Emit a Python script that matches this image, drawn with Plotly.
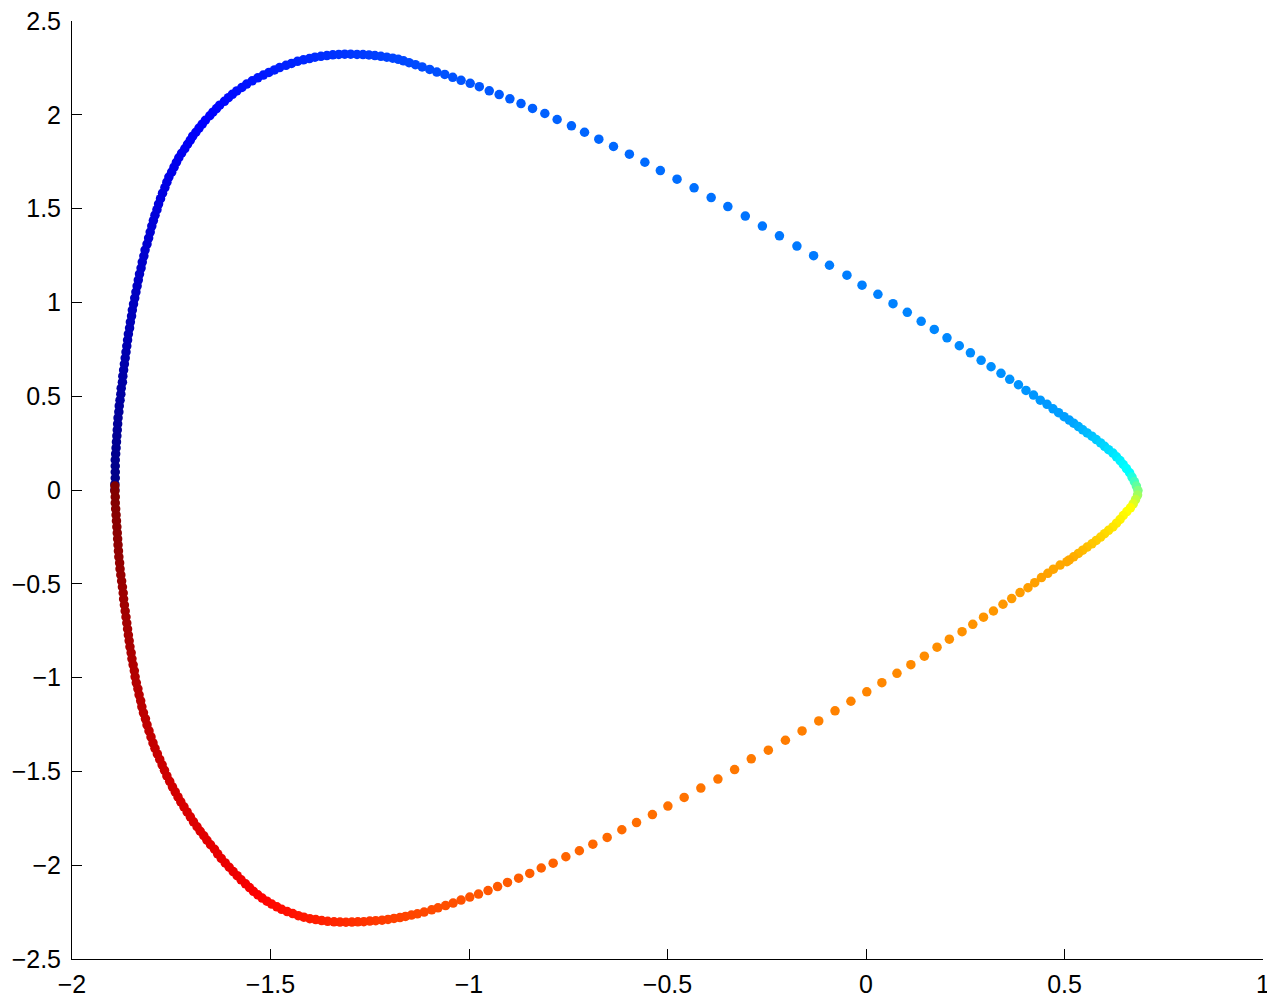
import numpy as np
import plotly.graph_objects as go

# Trajectory samples, in time order.
# Dense stretches are thinned; sparse stretches are every visible dot.
rise_x = [-1.892, -1.892, -1.891, -1.891, -1.891, -1.891, -1.890, -1.889, -1.888, -1.887,
          -1.886, -1.885, -1.884, -1.882, -1.881, -1.879, -1.877, -1.876, -1.873, -1.872,
          -1.870, -1.868, -1.866, -1.864, -1.862, -1.860, -1.858, -1.855, -1.853, -1.850,
          -1.848, -1.845, -1.842, -1.839, -1.836, -1.833, -1.830, -1.826, -1.823, -1.819,
          -1.816, -1.811, -1.807, -1.803, -1.799, -1.795, -1.791, -1.786, -1.782, -1.777,
          -1.772, -1.766, -1.761, -1.756, -1.749, -1.743, -1.737, -1.731, -1.724, -1.716,
          -1.709, -1.702, -1.696, -1.688, -1.680, -1.672, -1.664]
rise_y = [0.000, 0.032, 0.064, 0.096, 0.128, 0.160, 0.192, 0.224, 0.256, 0.288,
          0.320, 0.352, 0.384, 0.416, 0.448, 0.479, 0.511, 0.543, 0.575, 0.607,
          0.639, 0.671, 0.703, 0.735, 0.767, 0.799, 0.831, 0.863, 0.895, 0.927,
          0.959, 0.991, 1.023, 1.055, 1.087, 1.119, 1.151, 1.183, 1.215, 1.247,
          1.279, 1.311, 1.343, 1.375, 1.407, 1.436, 1.465, 1.494, 1.524, 1.553,
          1.582, 1.612, 1.641, 1.668, 1.694, 1.721, 1.747, 1.771, 1.795, 1.819,
          1.843, 1.865, 1.886, 1.907, 1.929, 1.950, 1.971]

crest_x = [-1.653, -1.645, -1.636, -1.628, -1.616, -1.606, -1.596, -1.585, -1.572, -1.560,
           -1.546, -1.532, -1.518, -1.504, -1.490, -1.477, -1.461, -1.447, -1.432, -1.417,
           -1.402, -1.388, -1.373, -1.358, -1.343, -1.328, -1.313, -1.298, -1.282, -1.267,
           -1.252, -1.237, -1.222, -1.207, -1.192, -1.178]
crest_y = [1.995, 2.014, 2.033, 2.051, 2.072, 2.091, 2.109, 2.127, 2.146, 2.164,
           2.181, 2.197, 2.212, 2.226, 2.239, 2.252, 2.264, 2.274, 2.285, 2.293,
           2.300, 2.307, 2.312, 2.316, 2.320, 2.322, 2.323, 2.323, 2.322, 2.321,
           2.319, 2.316, 2.312, 2.307, 2.302, 2.296]

top_x = [-1.165, -1.151, -1.135, -1.118, -1.099, -1.081, -1.061, -1.041, -1.020, -0.997,
         -0.974, -0.949, -0.924, -0.897, -0.869, -0.840, -0.809, -0.778, -0.742, -0.709,
         -0.673, -0.636, -0.596, -0.557, -0.518, -0.476, -0.433, -0.390, -0.348, -0.304,
         -0.261, -0.218, -0.174, -0.132, -0.092, -0.048, -0.010, 0.030, 0.068, 0.104,
         0.139, 0.172, 0.204, 0.235, 0.263, 0.290, 0.315, 0.340, 0.362, 0.384,
         0.403, 0.422, 0.439, 0.456, 0.471, 0.485, 0.499]
top_y = [2.288, 2.278, 2.267, 2.255, 2.242, 2.228, 2.215, 2.200, 2.184, 2.168,
         2.150, 2.128, 2.108, 2.085, 2.060, 2.034, 2.007, 1.975, 1.941, 1.907,
         1.870, 1.831, 1.790, 1.747, 1.703, 1.657, 1.611, 1.559, 1.511, 1.460,
         1.407, 1.355, 1.300, 1.249, 1.198, 1.145, 1.092, 1.043, 0.993, 0.947,
         0.899, 0.856, 0.811, 0.769, 0.731, 0.691, 0.657, 0.622, 0.590, 0.561,
         0.531, 0.506, 0.479, 0.457, 0.433, 0.412, 0.391]

tip_in_x = [0.512, 0.523, 0.535, 0.546, 0.557, 0.569, 0.580, 0.591, 0.601, 0.611,
            0.622, 0.631, 0.640, 0.648, 0.656]
tip_in_y = [0.373, 0.356, 0.338, 0.321, 0.304, 0.287, 0.269, 0.251, 0.233, 0.215,
            0.197, 0.177, 0.157, 0.136, 0.114]

apex_x = [0.664, 0.670, 0.676, 0.681, 0.685, 0.684, 0.679, 0.673, 0.666]
apex_y = [0.092, 0.069, 0.045, 0.021, -0.003, -0.027, -0.051, -0.074, -0.095]

tip_out_x = [0.657, 0.648, 0.640, 0.631, 0.622, 0.611, 0.601, 0.591, 0.580, 0.569,
             0.557, 0.546, 0.535, 0.523, 0.512]
tip_out_y = [-0.115, -0.136, -0.157, -0.177, -0.197, -0.215, -0.233, -0.251, -0.269, -0.287,
             -0.304, -0.321, -0.338, -0.356, -0.373]

low_x = [0.506, 0.489, 0.472, 0.458, 0.442, 0.425, 0.408, 0.388, 0.367, 0.345,
         0.321, 0.296, 0.269, 0.242, 0.210, 0.179, 0.147, 0.113, 0.078, 0.040,
         0.002, -0.038, -0.078, -0.119, -0.161, -0.203, -0.246, -0.289, -0.331, -0.373,
         -0.416, -0.458, -0.499, -0.538, -0.578, -0.615, -0.652, -0.688, -0.722, -0.756,
         -0.788, -0.818, -0.847, -0.875, -0.903, -0.928, -0.952, -0.976, -0.998, -1.020,
         -1.040, -1.059, -1.078, -1.094, -1.113, -1.130, -1.145, -1.160, -1.174]
low_y = [-0.382, -0.400, -0.422, -0.444, -0.467, -0.494, -0.521, -0.547, -0.579, -0.609,
         -0.645, -0.678, -0.716, -0.755, -0.795, -0.838, -0.886, -0.931, -0.977, -1.027,
         -1.076, -1.126, -1.177, -1.231, -1.284, -1.334, -1.387, -1.433, -1.490, -1.541,
         -1.589, -1.639, -1.685, -1.730, -1.773, -1.811, -1.852, -1.888, -1.923, -1.955,
         -1.989, -2.015, -2.044, -2.069, -2.092, -2.114, -2.135, -2.154, -2.170, -2.186,
         -2.202, -2.215, -2.227, -2.238, -2.250, -2.259, -2.266, -2.273, -2.279]

trough_x = [-1.189, -1.204, -1.219, -1.235, -1.250, -1.265, -1.280, -1.295, -1.310, -1.325,
            -1.340, -1.356, -1.371, -1.386, -1.401, -1.416, -1.430, -1.444, -1.458, -1.472,
            -1.484, -1.497, -1.509, -1.521, -1.532, -1.543, -1.553, -1.563, -1.574, -1.584,
            -1.594, -1.604]
trough_y = [-2.284, -2.289, -2.293, -2.296, -2.298, -2.301, -2.302, -2.303, -2.304, -2.303,
            -2.302, -2.299, -2.295, -2.290, -2.285, -2.277, -2.269, -2.258, -2.247, -2.235,
            -2.222, -2.207, -2.192, -2.175, -2.158, -2.139, -2.119, -2.099, -2.078, -2.056,
            -2.034, -2.011]

fall_x = [-1.614, -1.624, -1.633, -1.641,
          -1.651, -1.660, -1.668, -1.677, -1.685, -1.694, -1.702, -1.710, -1.718, -1.726,
          -1.733, -1.740, -1.747, -1.754, -1.761, -1.767, -1.773, -1.779, -1.785, -1.791,
          -1.796, -1.801, -1.806, -1.811, -1.815, -1.820, -1.824, -1.827, -1.831, -1.834,
          -1.838, -1.841, -1.843, -1.846, -1.849, -1.851, -1.854, -1.856, -1.858, -1.860,
          -1.862, -1.864, -1.866, -1.868, -1.870, -1.871,
          -1.873, -1.875, -1.877, -1.879, -1.880, -1.882, -1.883, -1.884, -1.885, -1.886,
          -1.887, -1.888, -1.889, -1.890, -1.891, -1.891, -1.892, -1.892]
fall_y = [-1.988, -1.964, -1.940, -1.915,
          -1.891, -1.867, -1.843, -1.819, -1.795, -1.769, -1.742, -1.716, -1.689, -1.662,
          -1.636, -1.609, -1.582, -1.553, -1.524, -1.494, -1.465, -1.436, -1.407, -1.377,
          -1.348, -1.316, -1.284, -1.252, -1.220, -1.188, -1.156, -1.124, -1.092, -1.060,
          -1.028, -0.996, -0.964, -0.932, -0.900, -0.868, -0.836, -0.804, -0.773, -0.741,
          -0.709, -0.677, -0.645, -0.613, -0.581, -0.549,
          -0.517, -0.485, -0.453, -0.421, -0.389, -0.357, -0.325, -0.293, -0.261, -0.229,
          -0.197, -0.165, -0.133, -0.101, -0.069, -0.037, -0.005, 0.021]

# fraction of the run (jet colour) at start / end of each stretch
stretch_time = [(0.000, 0.125), (0.125, 0.195), (0.195, 0.280), (0.280, 0.375), (0.375, 0.625),
                (0.625, 0.710), (0.710, 0.810), (0.810, 0.895), (0.895, 1.000)]

x_ticks = [-2, -1.5, -1, -0.5, 0, 0.5, 1]
x_ticklabels = ['\u22122', '\u22121.5', '\u22121', '\u22120.5', '0', '0.5', '1']
y_ticks = [-2.5, -2, -1.5, -1, -0.5, 0, 0.5, 1, 1.5, 2, 2.5]
y_ticklabels = ['\u22122.5', '\u22122', '\u22121.5', '\u22121', '\u22120.5', '0',
                '0.5', '1', '1.5', '2', '2.5']

# MATLAB jet
jet = [[0.0, 'rgb(0,0,132)'], [0.125, 'rgb(0,0,255)'], [0.375, 'rgb(0,255,255)'],
       [0.625, 'rgb(255,255,0)'], [0.875, 'rgb(255,0,0)'], [1.0, 'rgb(128,0,0)']]

stretches = [(rise_x, rise_y), (crest_x, crest_y), (top_x, top_y), (tip_in_x, tip_in_y),
             (apex_x, apex_y), (tip_out_x, tip_out_y), (low_x, low_y),
             (trough_x, trough_y), (fall_x, fall_y)]

xs, ys, cs = [], [], []
for (sx, sy), (t0, t1) in zip(stretches, stretch_time):
    if len(sx) != len(sy):
        raise ValueError('length mismatch %d %d' % (len(sx), len(sy)))
    xs += sx
    ys += sy
    cs += list(np.linspace(t0, t1, len(sx)))

fig = go.Figure()
fig.add_trace(go.Scatter(
    x=xs, y=ys, mode='markers',
    marker=dict(size=9.5, color=cs, colorscale=jet, cmin=0, cmax=1, line=dict(width=0)),
    showlegend=False, hoverinfo='x+y'))

# the page body adds an 8px offset, so the figure is sized to sit inside the window
fig.update_layout(
    width=1267, height=996,
    margin=dict(l=64, r=12, t=13, b=45),
    plot_bgcolor='white', paper_bgcolor='white',
    font=dict(family='Liberation Sans, Arial, sans-serif', size=25, color='black'),
)
axis_style = dict(ticks='inside', ticklen=10, tickwidth=1, tickcolor='black',
                  showline=True, linecolor='black', linewidth=1,
                  showgrid=False, zeroline=False, automargin=False,
                  ticklabeloverflow='allow')
fig.update_xaxes(range=[-2, 1], tickvals=x_ticks, ticktext=x_ticklabels,
                 ticklabelstandoff=3, **axis_style)
fig.update_yaxes(range=[-2.5, 2.5], tickvals=y_ticks, ticktext=y_ticklabels,
                 ticklabelstandoff=5, **axis_style)

fig.write_html("out.html")
